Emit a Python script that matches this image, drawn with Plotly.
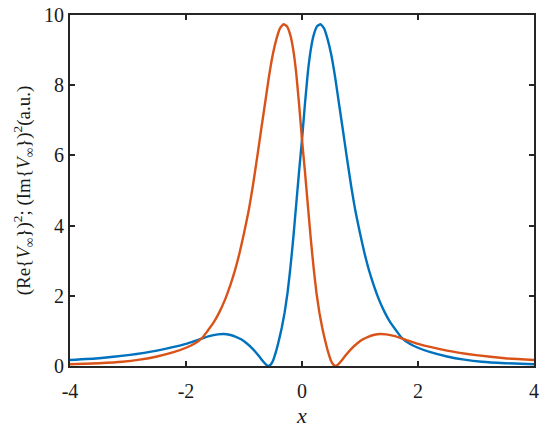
import plotly.graph_objects as go

# Blue curve: (Re{V_inf})^2
x_re = [-4.0, -3.5, -3.0, -2.5, -2.0, -1.8, -1.6, -1.45, -1.35, -1.25, -1.15, -1.05,
        -0.95, -0.85, -0.75, -0.68, -0.62, -0.58, -0.54, -0.50, -0.45, -0.40, -0.35,
        -0.30, -0.25, -0.20, -0.15, -0.10, -0.05, 0.0, 0.05, 0.10, 0.15, 0.20, 0.26,
        0.32, 0.38, 0.44, 0.50, 0.57, 0.64, 0.70, 0.77, 0.85, 0.92, 1.00, 1.08, 1.16,
        1.24, 1.32, 1.42, 1.52, 1.62, 1.72, 1.85, 2.0, 2.2, 2.5, 2.8, 3.1, 3.5, 4.0]
y_re = [0.17, 0.22, 0.31, 0.44, 0.63, 0.74, 0.85, 0.90, 0.91, 0.89, 0.84, 0.76,
        0.64, 0.49, 0.30, 0.15, 0.04, 0.0, 0.04, 0.15, 0.40, 0.72, 1.08,
        1.52, 2.08, 2.8, 3.65, 4.6, 5.55, 6.45, 7.45, 8.35, 9.0, 9.42, 9.68,
        9.74, 9.62, 9.32, 8.9, 8.24, 7.45, 6.78, 5.98, 5.1, 4.42, 3.78, 3.2, 2.7,
        2.28, 1.92, 1.55, 1.25, 1.02, 0.80, 0.64, 0.52, 0.40, 0.27, 0.18, 0.12, 0.08, 0.05]

# Orange curve: (Im{V_inf})^2
x_im = [-4.0, -3.5, -3.1, -2.8, -2.5, -2.2, -2.0, -1.85, -1.72, -1.62, -1.52, -1.42,
        -1.32, -1.24, -1.16, -1.08, -1.00, -0.92, -0.85, -0.77, -0.70, -0.64, -0.57,
        -0.50, -0.44, -0.38, -0.32, -0.26, -0.20, -0.15, -0.10, -0.05, 0.0, 0.05, 0.10,
        0.15, 0.20, 0.25, 0.30, 0.35, 0.40, 0.45, 0.50, 0.54, 0.58, 0.62, 0.68, 0.75,
        0.85, 0.95, 1.05, 1.15, 1.25, 1.35, 1.45, 1.6, 1.8, 2.0, 2.5, 3.0, 3.5, 4.0]
y_im = [0.05, 0.08, 0.12, 0.18, 0.27, 0.40, 0.52, 0.64, 0.80, 1.02, 1.25, 1.55,
        1.92, 2.28, 2.7, 3.2, 3.78, 4.42, 5.1, 5.98, 6.78, 7.45, 8.24,
        8.9, 9.32, 9.62, 9.74, 9.68, 9.42, 9.0, 8.35, 7.45, 6.45, 5.55, 4.6,
        3.65, 2.8, 2.08, 1.52, 1.08, 0.72, 0.40, 0.15, 0.04, 0.0, 0.04, 0.15, 0.30,
        0.49, 0.64, 0.76, 0.84, 0.89, 0.91, 0.90, 0.85, 0.74, 0.63, 0.44, 0.31, 0.22, 0.17]

x_ticks = [-4, -2, 0, 2, 4]
y_ticks = [0, 2, 4, 6, 8, 10]

FONT = "Liberation Serif"
AX = "#262626"
TXT = "#1a1a1a"

fig = go.Figure()
fig.add_trace(go.Scatter(x=x_re, y=y_re, mode="lines",
                         line=dict(color="#0072BD", width=2.4, shape="spline", smoothing=0.4)))
fig.add_trace(go.Scatter(x=x_im, y=y_im, mode="lines",
                         line=dict(color="#D95319", width=2.4, shape="spline", smoothing=0.4)))

axis_common = dict(showline=True, linecolor=AX, linewidth=2, mirror="ticks",
                   ticks="inside", ticklen=5, tickwidth=1.8, tickcolor=AX,
                   showgrid=False, zeroline=False, automargin=False,
                   tickfont=dict(family=FONT, size=20, color=TXT))

fig.update_xaxes(range=[-4, 4], tickvals=x_ticks, ticktext=[str(v) for v in x_ticks],
                 ticklabelstandoff=6,
                 title=dict(text="<i>x</i>", font=dict(family=FONT, size=22, color=TXT), standoff=8),
                 **axis_common)
fig.update_yaxes(range=[0, 10], tickvals=y_ticks, ticktext=[str(v) for v in y_ticks],
                 title=dict(text="(Re{<i>V</i><sub>∞</sub>})<sup>2</sup>; (Im{<i>V</i><sub>∞</sub>})<sup>2</sup>(a.u.)",
                            font=dict(family=FONT, size=19, color=TXT), standoff=8),
                 **axis_common)

fig.update_layout(width=550, height=428, margin=dict(l=70, r=16, t=15, b=62),
                  plot_bgcolor="white", paper_bgcolor="white", showlegend=False)

fig.write_html("out.html", config={"displayModeBar": False},
               post_script="document.body.style.margin='0';document.body.style.overflow='hidden';")
